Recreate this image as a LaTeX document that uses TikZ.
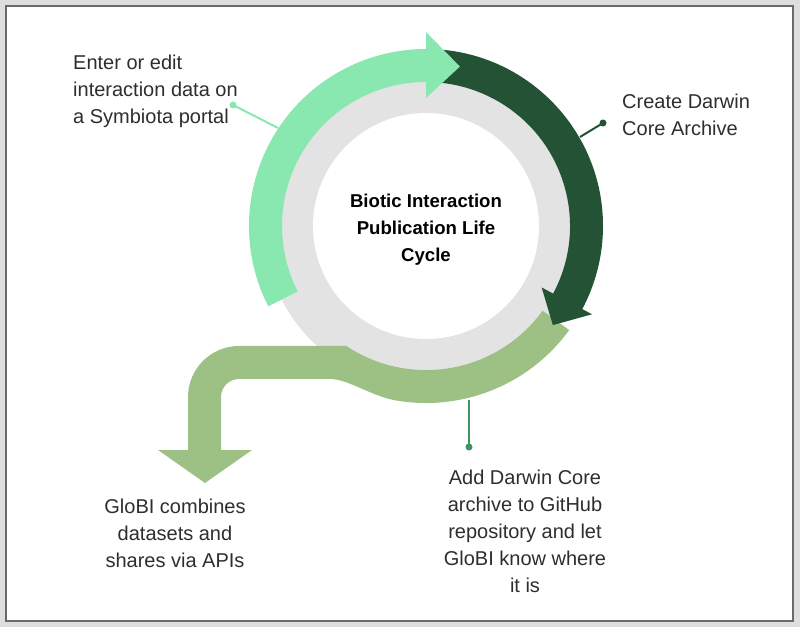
\documentclass[tikz,border=0pt]{standalone}
\usepackage{fontspec}
\setmainfont{Liberation Sans}
\usetikzlibrary{calc}
\definecolor{lightg}{HTML}{88E8B0}
\definecolor{darkg}{HTML}{235334}
\definecolor{sage}{HTML}{9DC184}
\definecolor{ringgray}{HTML}{E3E3E3}
\definecolor{leadmid}{HTML}{3C9560}
\definecolor{txt}{HTML}{2E2E2E}
\definecolor{framebg}{HTML}{DEDEDE}
\definecolor{frameline}{HTML}{6A6A6A}
\begin{document}
\begin{tikzpicture}[x=1pt,y=1pt,
  lbl/.style={font=\fontsize{20}{27}\selectfont, text=txt, inner sep=0pt},
  ttl/.style={font=\bfseries\fontsize{18.6}{27}\selectfont, text=black, inner sep=0pt, align=center},
  dot/.style={circle, inner sep=0pt, minimum size=7pt},
  leader/.style={line width=2pt}]
\useasboundingbox (0,0) rectangle (800,627);
\fill[framebg] (0,0) rectangle (800,627);
\filldraw[fill=white, draw=frameline, line width=2pt] (6,6) rectangle (793,621);

\begin{scope}[shift={(426,401)}]
  % grey ring and white centre
  \fill[ringgray] (0,0) circle[radius=162];
  \fill[white] (0,0) circle[radius=113];
  % sage arrow (ring segment leading out to the lower left)
  \fill[sage] (-36:177) arc[start angle=-36, end angle=-100, radius=177]
     .. controls (-55,-170) and (-78,-153) .. (-96,-153)
     -- (-187,-153) arc[start angle=90, end angle=180, radius=18]
     -- (-205,-224) -- (-174,-224) -- (-221,-257) -- (-268,-224) -- (-238,-224)
     -- (-238,-171) arc[start angle=180, end angle=90, radius=51]
     -- (-79.6,-120) arc[start angle=236.4, end angle=324, radius=144] -- cycle;
  % dark green arrow
  \fill[darkg] (88:177) arc[start angle=88, end angle=-28, radius=177]
     -- (-28:188) -- (-38:161) -- (-28:131) -- (-28:144)
     arc[start angle=-28, end angle=88, radius=144] -- cycle;
  % light green arrow
  \fill[lightg] (207:177) arc[start angle=207, end angle=90, radius=177]
     -- (90:194) -- (78:163) -- (90:128) -- (90:144)
     arc[start angle=90, end angle=207, radius=144] -- cycle;
\end{scope}

% leaders
\node[dot, fill=lightg] (d1) at (233,522) {};
\coordinate (e1) at (278,499);
\draw[leader, lightg] (d1.center) -- (e1);
\node[dot, fill=darkg] (d2) at (603,504) {};
\coordinate (e2) at (580,490);
\draw[leader, darkg] (d2.center) -- (e2);
\node[dot, fill=leadmid] (d3) at (469,180) {};
\coordinate (e3) at (469,227);
\draw[leader, leadmid, line width=2.5pt] (d3.center) -- (e3);

% texts
\node[ttl, anchor=north] (t0) at (426,433.6) {Biotic Interaction\\Publication Life\\Cycle};
\node[lbl, anchor=north west, align=left] (t1) at (73,572.6) {Enter or edit\\interaction data on\\a Symbiota portal};
\node[lbl, anchor=north west, align=left] (t2) at (622,533.5) {Create Darwin\\Core Archive};
\node[lbl, anchor=north, align=center] (t3) at (175,128.6) {GloBI combines\\datasets and\\shares via APIs};
\node[lbl, anchor=north, align=center] (t4) at (525,157.6) {Add Darwin Core\\archive to GitHub\\repository and let\\GloBI know where\\it is};
\end{tikzpicture}
\end{document}
